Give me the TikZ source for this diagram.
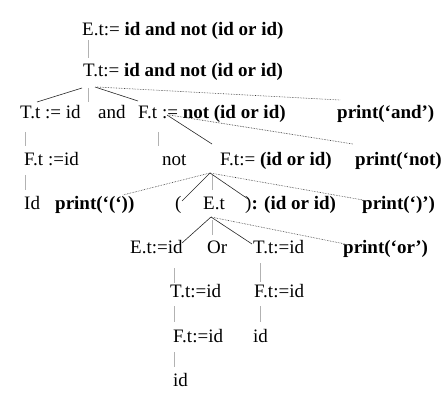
\documentclass[tikz,border=0pt]{standalone}
\usepackage{fontspec}
\setmainfont{Liberation Serif}
\begin{document}
\begin{tikzpicture}[x=1pt,y=-1pt,
  lbl/.style={anchor=base west,inner sep=0pt,font=\fontsize{19}{23}\selectfont},
  vline/.style={gray!60,line width=0.8pt},
  sline/.style={black!85,line width=0.6pt},
  dline/.style={black!80,densely dotted,line width=0.6pt}]
\useasboundingbox (0,0) rectangle (448,404);
% Noeuds
\node[lbl] (e1) at (82,36) {E.t:= \textbf{id and not (id or id)}};
\node[lbl] (t2) at (83,77) {T.t:= \textbf{id and not (id or id)}};
\node[lbl] (t3) at (20,119) {T.t := id};
\node[lbl] (and3) at (98,119) {and};
\node[lbl] (f3) at (138,119) {F.t := \textbf{not (id or id)}};
\node[lbl] (pand) at (337,119) {\textbf{print(‘and’)}};
\node[lbl] (f4) at (24,165) {F.t :=id};
\node[lbl] (not4) at (162,165) {not};
\node[lbl] (f4b) at (220,165) {F.t:= \textbf{(id or id)}};
\node[lbl] (pnot) at (355,165) {\textbf{print(‘not)}};
\node[lbl] (id5) at (24,209) {Id};
\node[lbl] (popen) at (55,209) {\textbf{print(‘(‘))}};
\node[lbl] (lp5) at (175,209) {(};
\node[lbl] (e5) at (203,209) {E.t};
\node[lbl] (rp5) at (245,209) {)\textbf{: (id or id)}};
\node[lbl] (pclose) at (362,209) {\textbf{print(‘)’)}};
\node[lbl] (e6) at (130,254) {E.t:=id};
\node[lbl] (or6) at (207,254) {Or};
\node[lbl] (t6) at (253,254) {T.t:=id};
\node[lbl] (por) at (343,254) {\textbf{print(‘or’)}};
\node[lbl] (t7) at (170,298) {T.t:=id};
\node[lbl] (f7) at (254,298) {F.t:=id};
\node[lbl] (f8) at (173,342) {F.t:=id};
\node[lbl] (id8) at (253,342) {id};
\node[lbl] (id9) at (173,386) {id};
% Liens
\draw[vline] ([shift={(6,4)}]e1.base west) -- ([shift={(5,-19)}]t2.base west);
\draw[sline] ([shift={(-1,11)}]t2.base west) -- ([shift={(17,-17)}]t3.base west);
\draw[vline] ([shift={(5,11)}]t2.base west) -- ([shift={(-10,-17)}]and3.base west);
\draw[sline] ([shift={(12,10)}]t2.base west) -- ([shift={(0,-18)}]f3.base west);
\draw[dline] ([shift={(14,10)}]t2.base west) -- ([shift={(3,-19)}]pand.base west);
\draw[vline] ([shift={(5,13)}]t3.base west) -- ([shift={(1,-19)}]f4.base west);
\draw[vline] ([shift={(20,13)}]f3.base west) -- ([shift={(-4,-19)}]not4.base west);
\draw[sline] ([shift={(29,-4)}]f3.base west) -- ([shift={(-8,-21)}]f4b.base west);
\draw[dline] ([shift={(31,-4)}]f3.base west) -- ([shift={(-2,-21)}]pnot.base west);
\draw[vline] ([shift={(1,10)}]f4.base west) -- ([shift={(1,-19)}]id5.base west);
\draw[sline] ([shift={(-10,8)}]f4b.base west) -- ([shift={(7,-8)}]lp5.base west);
\draw[vline] ([shift={(-8,10)}]f4b.base west) -- ([shift={(9,-19)}]e5.base west);
\draw[sline] ([shift={(-10,8)}]f4b.base west) -- ([shift={(3,-10)}]rp5.base west);
\draw[dline] ([shift={(-10,8)}]f4b.base west) -- ([shift={(68,-14)}]popen.base west);
\draw[dline] ([shift={(-10,8)}]f4b.base west) -- ([shift={(1,-9)}]pclose.base west);
\draw[sline] ([shift={(8,8)}]e5.base west) -- ([shift={(52,-11)}]e6.base west);
\draw[vline] ([shift={(9,11)}]e5.base west) -- ([shift={(5,-19)}]or6.base west);
\draw[sline] ([shift={(8,8)}]e5.base west) -- ([shift={(-1,-10)}]t6.base west);
\draw[dline] ([shift={(8,8)}]e5.base west) -- ([shift={(2,-10)}]por.base west);
\draw[vline] ([shift={(44,14)}]e6.base west) -- ([shift={(4,-15)}]t7.base west);
\draw[vline] ([shift={(7,9)}]t6.base west) -- ([shift={(6,-16)}]f7.base west);
\draw[vline] ([shift={(4,8)}]t7.base west) -- ([shift={(1,-20)}]f8.base west);
\draw[vline] ([shift={(6,8)}]f7.base west) -- ([shift={(7,-20)}]id8.base west);
\draw[vline] ([shift={(1,10)}]f8.base west) -- ([shift={(1,-19)}]id9.base west);
\end{tikzpicture}
\end{document}
